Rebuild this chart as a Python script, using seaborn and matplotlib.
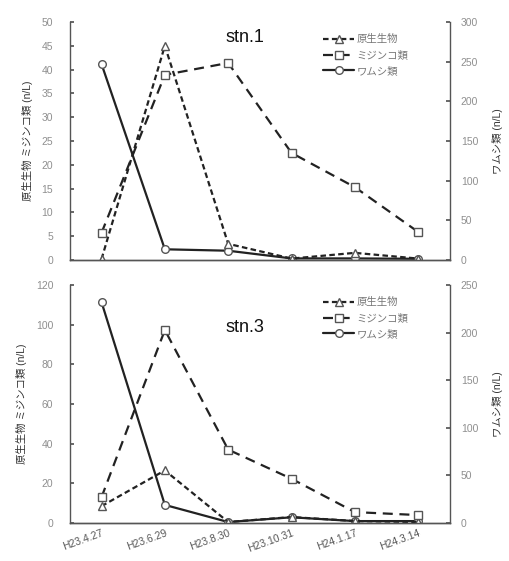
import matplotlib
matplotlib.use("Agg")
import matplotlib.pyplot as plt
import seaborn as sns
import pandas as pd

sns.set_theme(style="white")
plt.rcParams["font.family"] = ["Liberation Sans", "Noto Sans CJK JP", "DejaVu Sans"]

dates = ["H23.4.27", "H23.6.29", "H23.8.30", "H23.10.31", "H24.1.17", "H24.3.14"]

# stn.1
st1_protozoa = [0.2, 45, 3.4, 0.3, 1.5, 0.3]
st1_cladocera = [5.7, 38.9, 41.4, 22.5, 15.3, 5.9]
st1_rotifera = [247, 13.5, 11.7, 2, 2, 1.5]

# stn.3
st3_protozoa = [8.5, 26.5, 0.5, 3, 1, 0.5]
st3_cladocera = [13, 97.3, 37, 22.3, 5.5, 4]
st3_rotifera = [232, 19, 1, 6, 2, 2]

lab_protozoa = "原生生物"
lab_cladocera = "ミジンコ類"
lab_rotifera = "ワムシ類"

left_label = "原生生物 ミジンコ類 (n/L)"
right_label = "ワムシ類 (n/L)"

tick_color = "#8f8f8f"
line_color = "#222222"
spine_color = "#555555"

fig = plt.figure(figsize=(5.1, 5.61), dpi=100)
# panel boxes in figure fractions
ax_top = fig.add_axes([0.137, 1 - 260 / 561, 0.745, 238 / 561])
ax_bot = fig.add_axes([0.137, 1 - 523 / 561, 0.745, 238 / 561])


def draw_panel(ax, name, name_y, proto, clad, rot, ymax_l, ystep_l, ymax_r, ystep_r, show_x):
    df = pd.DataFrame({"date": dates, "proto": proto, "clad": clad, "rot": rot})
    axr = ax.twinx()
    mk = dict(markersize=5.5, markerfacecolor="white", markeredgecolor="#555555",
              markeredgewidth=1.0)
    sns.lineplot(data=df, x="date", y="proto", ax=ax, color=line_color, lw=1.6,
                 marker="^", sort=False, label=lab_protozoa, **mk)
    ax.lines[-1].set_dashes((2.5, 1.5))
    sns.lineplot(data=df, x="date", y="clad", ax=ax, color=line_color, lw=1.6,
                 marker="s", sort=False, label=lab_cladocera, **mk)
    ax.lines[-1].set_dashes((4.5, 3))
    sns.lineplot(data=df, x="date", y="rot", ax=axr, color=line_color, lw=1.6,
                 marker="o", sort=False, label=lab_rotifera, **mk)

    ax.set_xlim(-0.5, len(dates) - 0.5)
    ax.set_ylim(0, ymax_l)
    axr.set_ylim(0, ymax_r)
    ax.set_yticks(range(0, ymax_l + 1, ystep_l))
    axr.set_yticks(range(0, ymax_r + 1, ystep_r))
    ax.set_xlabel("")
    ax.set_ylabel(left_label, fontsize=7.5, color="#333333", labelpad=6)
    axr.set_ylabel(right_label, fontsize=7.5, color="#333333", rotation=90, labelpad=10)
    axr.yaxis.set_label_position("right")

    for a in (ax, axr):
        a.set_zorder(1 if a is axr else 2)
        a.patch.set_visible(False)
        a.spines["top"].set_visible(False)
        for s in ("left", "right", "bottom"):
            a.spines[s].set_color(spine_color)
            a.spines[s].set_linewidth(1.0)
    ax.tick_params(axis="y", direction="in", length=3, color=spine_color,
                   labelsize=7.5, labelcolor=tick_color, pad=12)
    axr.tick_params(axis="y", direction="in", length=3, color=spine_color,
                    labelsize=7.5, labelcolor=tick_color, pad=8)
    ax.spines["right"].set_visible(False)
    axr.spines["left"].set_visible(False)

    ax.tick_params(axis="x", direction="in", length=3, color=spine_color)
    ax.set_xticks(range(len(dates)))
    if show_x:
        ax.set_xticklabels(dates, rotation=20, fontsize=7.5, color="#555555",
                           ha="right", rotation_mode="anchor")
    else:
        ax.set_xticklabels([])

    ax.text(0.46, name_y, name, transform=ax.transAxes, fontsize=13,
            ha="center", va="center", color="#111111")

    h1, l1 = ax.get_legend_handles_labels()
    h2, l2 = axr.get_legend_handles_labels()
    ax.legend(h1 + h2, l1 + l2, loc="upper left", bbox_to_anchor=(0.655, 0.965),
              frameon=False, fontsize=7.5, handlelength=3.0, handletextpad=0.2,
              labelspacing=0.55, borderaxespad=0, labelcolor="#777777")
    if axr.get_legend() is not None:
        axr.get_legend().remove()


draw_panel(ax_top, "stn.1", 0.935, st1_protozoa, st1_cladocera, st1_rotifera, 50, 5, 300, 50, False)
draw_panel(ax_bot, "stn.3", 0.82, st3_protozoa, st3_cladocera, st3_rotifera, 120, 20, 250, 50, True)

fig.savefig("out.png", dpi=100)
